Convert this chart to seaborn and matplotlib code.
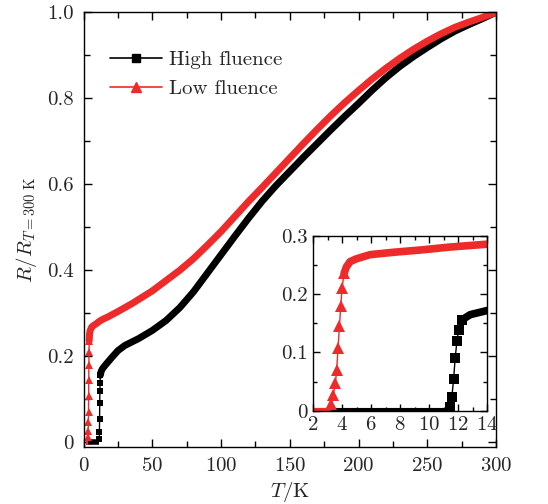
import numpy as np
import pandas as pd
import matplotlib
matplotlib.use("Agg")
import matplotlib.pyplot as plt
from matplotlib.lines import Line2D
from matplotlib.ticker import MultipleLocator, FixedLocator, FixedFormatter
import seaborn as sns

# ---------------- data ----------------
series_names = ["High fluence", "Low fluence"]

# High fluence (black squares)
high_flat_T = [2.0, 11.45]
high_flat_R = [0.0, 0.0]
high_trans_T = [11.45, 11.56, 11.68, 11.79, 11.91, 12.02, 12.25]
high_trans_R = [0.007, 0.0235, 0.054, 0.091, 0.119, 0.138, 0.156]
high_smooth_T = [12.25, 12.83, 13.98, 16, 20, 25, 30, 40, 50, 60, 70, 80, 90,
                 100, 110, 120, 130, 140, 150, 160, 170, 180, 190, 200, 210,
                 220, 230, 240, 250, 260, 270, 280, 290, 300]
high_smooth_R = [0.156, 0.165, 0.172, 0.180, 0.195, 0.213, 0.225, 0.241, 0.26,
                 0.283, 0.313, 0.35, 0.393, 0.436, 0.479, 0.521, 0.561, 0.597,
                 0.630, 0.663, 0.695, 0.727, 0.758, 0.788, 0.819, 0.848, 0.874,
                 0.897, 0.918, 0.938, 0.956, 0.971, 0.985, 1.0]

# Low fluence (red triangles)
low_flat_T = [2.0, 3.24]
low_flat_R = [0.0, 0.0]
low_trans_T = [3.24, 3.40, 3.54, 3.63, 3.72, 3.82, 3.91, 4.0, 4.14]
low_trans_R = [0.0115, 0.027, 0.047, 0.070, 0.107, 0.145, 0.180, 0.211, 0.236]
low_smooth_T = [4.14, 4.3, 4.55, 5.0, 5.93, 7.5, 9.4, 11.4, 13.98, 18, 25, 35,
                43.5, 50, 60, 70, 80, 90, 100, 110, 120, 130, 140, 150, 160,
                170, 180, 190, 200, 210, 220, 230, 240, 250, 260, 270, 280,
                290, 300]
low_smooth_R = [0.236, 0.247, 0.256, 0.261, 0.268, 0.272, 0.276, 0.281, 0.286,
                0.292, 0.304, 0.322, 0.339, 0.352, 0.376, 0.400, 0.427, 0.458,
                0.490, 0.525, 0.560, 0.593, 0.627, 0.661, 0.695, 0.728, 0.760,
                0.790, 0.818, 0.845, 0.870, 0.893, 0.914, 0.933, 0.950, 0.965,
                0.977, 0.988, 1.0]

main_xticks = [0, 50, 100, 150, 200, 250, 300]
main_yticks = [0, 0.2, 0.4, 0.6, 0.8, 1.0]
main_ylabels = ["0", "0.2", "0.4", "0.6", "0.8", "1.0"]
inset_xticks = [2, 4, 6, 8, 10, 12, 14]
inset_yticks = [0, 0.1, 0.2, 0.3]
inset_ylabels = ["0", "0.1", "0.2", "0.3"]

# ---------------- style ----------------
sns.set_style("ticks")
plt.rcParams["font.family"] = ["cmr10", "DejaVu Serif"]
plt.rcParams["mathtext.fontset"] = "cm"
plt.rcParams["axes.formatter.use_mathtext"] = True
plt.rcParams["axes.unicode_minus"] = False

BLACK = "#000000"
RED = "#EE2A2A"
FS = 15

fig = plt.figure(figsize=(5.48, 5.04), dpi=100)
ax = fig.add_axes([0.1524, 0.1131, 0.7527, 0.8625])
axin = fig.add_axes([0.5712, 0.1851, 0.318, 0.3466])


def draw(a, ms_sq, ms_tri, band):
    # black series
    sns.lineplot(x=high_flat_T, y=high_flat_R, ax=a, color=BLACK, lw=band * 0.8,
                 estimator=None, sort=False, solid_capstyle="butt")
    sns.lineplot(x=high_trans_T, y=high_trans_R, ax=a, color=BLACK, lw=1.0,
                 marker="s", markersize=ms_sq, markeredgewidth=0,
                 estimator=None, sort=False)
    sns.lineplot(x=high_smooth_T, y=high_smooth_R, ax=a, color=BLACK, lw=band,
                 estimator=None, sort=False, solid_capstyle="round",
                 solid_joinstyle="round")
    # red series
    sns.lineplot(x=low_flat_T, y=low_flat_R, ax=a, color=RED, lw=band * 0.8,
                 estimator=None, sort=False, solid_capstyle="butt")
    sns.lineplot(x=low_trans_T, y=low_trans_R, ax=a, color=RED, lw=1.0,
                 marker="^", markersize=ms_tri, markeredgewidth=0,
                 estimator=None, sort=False)
    sns.lineplot(x=low_smooth_T, y=low_smooth_R, ax=a, color=RED, lw=band,
                 estimator=None, sort=False, solid_capstyle="round",
                 solid_joinstyle="round")


draw(ax, 4, 5.5, 5.0)
draw(axin, 6.5, 8, 5.5)

# ---------------- main axes ----------------
ax.set_xlim(0, 300)
ax.set_ylim(-0.011, 1.0)
ax.xaxis.set_major_locator(FixedLocator(main_xticks))
ax.xaxis.set_minor_locator(MultipleLocator(25))
ax.yaxis.set_major_locator(FixedLocator(main_yticks))
ax.yaxis.set_major_formatter(FixedFormatter(main_ylabels))
ax.yaxis.set_minor_locator(MultipleLocator(0.1))
ax.tick_params(which="both", direction="in", top=True, right=True,
               labelsize=FS, width=1.0, color="black")
ax.tick_params(which="major", length=6, pad=7)
ax.tick_params(which="minor", length=4.5)
ax.set_xlabel(r"$T$/K", fontsize=FS, labelpad=4)
ax.set_ylabel(r"$R/R_{T=300\ \mathrm{K}}$", fontsize=FS, labelpad=6)
for s in ax.spines.values():
    s.set_linewidth(1.0)
    s.set_color("black")

handles = [Line2D([0], [0], color=BLACK, lw=1.2, marker="s", markersize=6),
           Line2D([0], [0], color=RED, lw=1.2, marker="^", markersize=7)]
ax.legend(handles, series_names, loc="upper left",
          bbox_to_anchor=(0.063, 0.912), frameon=False, fontsize=FS,
          handlelength=2.5, handletextpad=0.35, labelspacing=0.5,
          borderpad=0, borderaxespad=0)

# ---------------- inset ----------------
axin.set_xlim(2, 14)
axin.set_ylim(0, 0.3)
axin.xaxis.set_major_locator(FixedLocator(inset_xticks))
axin.xaxis.set_minor_locator(MultipleLocator(1))
axin.yaxis.set_major_locator(FixedLocator(inset_yticks))
axin.yaxis.set_major_formatter(FixedFormatter(inset_ylabels))
axin.yaxis.set_minor_locator(MultipleLocator(0.05))
axin.tick_params(which="both", direction="in", top=True, right=True,
                 labelsize=FS, width=1.0, color="black")
axin.tick_params(which="major", length=5, pad=4)
axin.tick_params(which="minor", length=3)
axin.set_xlabel("")
axin.set_ylabel("")
for s in axin.spines.values():
    s.set_linewidth(1.0)
    s.set_color("black")

fig.savefig("out.png", dpi=100)
